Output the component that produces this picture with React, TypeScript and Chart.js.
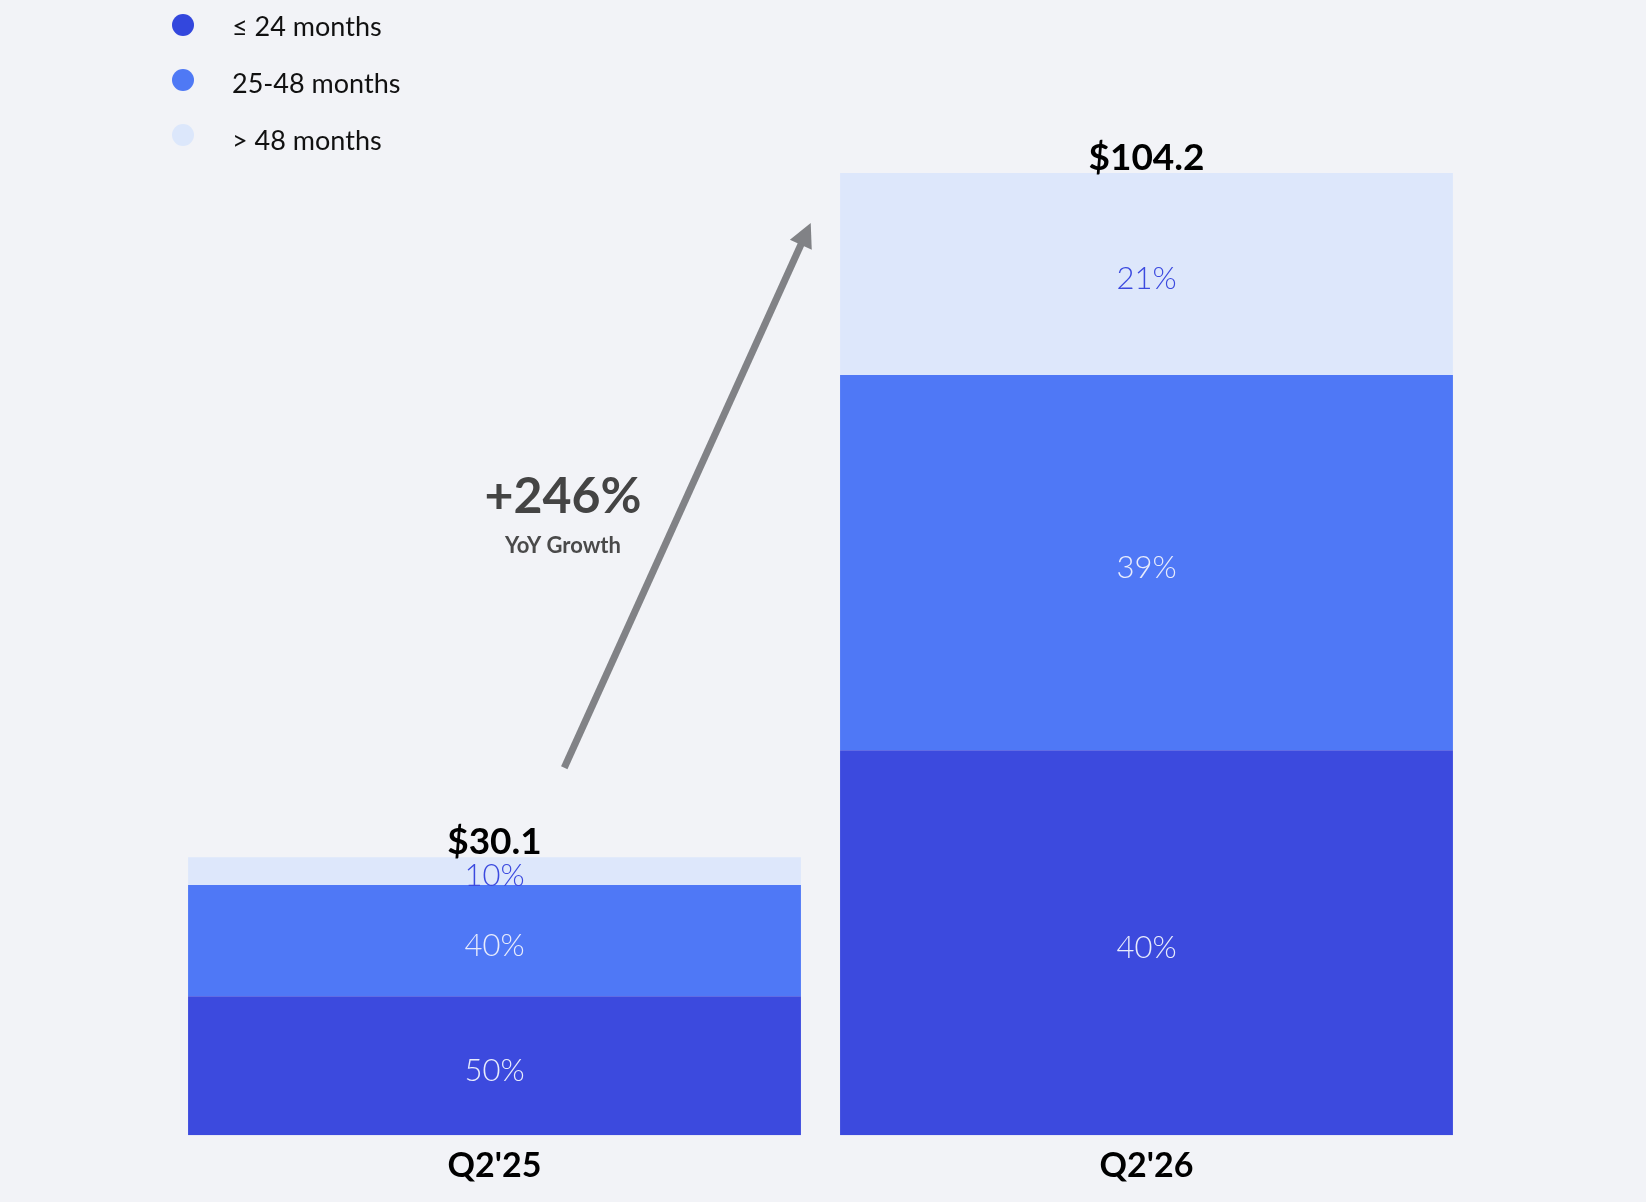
import { useEffect, useRef } from "react";
import { Chart, registerables } from "chart.js";

Chart.register(...registerables);

// quarters on the x axis
const quarters = ["Q2'25", "Q2'26"];
// total value of each bar ($)
const totals = [30.1, 104.2];
// share of each bucket in the total (%)
const shareUpTo24 = [50, 40];
const share25to48 = [40, 39];
const shareOver48 = [10, 21];

const seriesLabels = ["≤ 24 months", "25-48 months", "> 48 months"];
const seriesShares = [shareUpTo24, share25to48, shareOver48];
const seriesColors = ["#3C4ADE", "#4F78F6", "#DDE7FB"];
const seriesTextColors = ["#E8ECFC", "#E8ECFC", "#3B4ADF"];
const legendDotColors = ["#3347DD", "#4F79F5", "#DCE7FB"];

const growthLabel = "+246%";
const growthCaption = "YoY Growth";

const FONT = "Lato, 'Open Sans', sans-serif";

// arrow + growth text placed in data space (fraction between categories, value)
const ARROW_FROM = { at: 0.107, value: 39.8 };
const ARROW_TO = { at: 0.485, value: 98.8 };
const GROWTH_TEXT = { at: 0.105, value: 67.35 };
const GROWTH_CAPTION = { at: 0.105, value: 63.1 };

const labelsPlugin = {
  id: "segmentLabels",
  afterDatasetsDraw(chart: any) {
    const ctx = chart.ctx;
    ctx.save();
    ctx.textAlign = "center";
    chart.data.datasets.forEach((ds: any, i: number) => {
      const meta = chart.getDatasetMeta(i);
      meta.data.forEach((bar: any, j: number) => {
        const mid = (bar.y + bar.base) / 2 + 5;
        ctx.font = `300 31px ${FONT}`;
        ctx.fillStyle = seriesTextColors[i];
        ctx.textBaseline = "middle";
        ctx.fillText(`${seriesShares[i][j]}%`, bar.x, mid);
      });
    });
    // totals on top of each stack
    const topMeta = chart.getDatasetMeta(chart.data.datasets.length - 1);
    topMeta.data.forEach((bar: any, j: number) => {
      ctx.font = `700 37px ${FONT}`;
      ctx.fillStyle = "#000000";
      ctx.textBaseline = "alphabetic";
      ctx.fillText(`$${totals[j]}`, bar.x, bar.y - 3);
    });
    ctx.restore();
  },
};

const arrowPlugin = {
  id: "growthArrow",
  afterDraw(chart: any) {
    const { ctx, scales } = chart;
    const xs = scales.x;
    const ys = scales.y;
    const x0 = xs.getPixelForValue(0);
    const x1 = xs.getPixelForValue(1);
    const px = (f: number) => x0 + (x1 - x0) * f;

    const sx = px(ARROW_FROM.at);
    const sy = ys.getPixelForValue(ARROW_FROM.value);
    const ex = px(ARROW_TO.at);
    const ey = ys.getPixelForValue(ARROW_TO.value);
    const ang = Math.atan2(ey - sy, ex - sx);
    const headLen = 24;
    const headHalf = 12;
    const bx = ex - Math.cos(ang) * headLen;
    const by = ey - Math.sin(ang) * headLen;

    ctx.save();
    ctx.strokeStyle = "#818286";
    ctx.fillStyle = "#818286";
    ctx.lineWidth = 7;
    ctx.beginPath();
    ctx.moveTo(sx, sy);
    ctx.lineTo(bx + Math.cos(ang) * 2, by + Math.sin(ang) * 2);
    ctx.stroke();
    ctx.beginPath();
    ctx.moveTo(ex, ey);
    ctx.lineTo(bx + Math.sin(ang) * headHalf, by - Math.cos(ang) * headHalf);
    ctx.lineTo(bx - Math.sin(ang) * headHalf, by + Math.cos(ang) * headHalf);
    ctx.closePath();
    ctx.fill();

    ctx.textAlign = "center";
    ctx.textBaseline = "alphabetic";
    ctx.fillStyle = "#444444";
    ctx.font = `700 50px ${FONT}`;
    ctx.fillText(growthLabel, px(GROWTH_TEXT.at), ys.getPixelForValue(GROWTH_TEXT.value));
    ctx.fillStyle = "#4A4A4A";
    ctx.font = `700 22px ${FONT}`;
    ctx.fillText(growthCaption, px(GROWTH_CAPTION.at), ys.getPixelForValue(GROWTH_CAPTION.value));
    ctx.restore();
  },
};

function App() {
  const canvasRef = useRef<HTMLCanvasElement | null>(null);

  useEffect(() => {
    document.body.style.margin = "0";
    if (!canvasRef.current) return;
    const chart = new Chart(canvasRef.current, {
      type: "bar",
      data: {
        labels: quarters,
        datasets: seriesLabels.map((label, i) => ({
          label,
          data: seriesShares[i].map((s, j) => (s * totals[j]) / 100),
          backgroundColor: seriesColors[i],
          borderWidth: 0,
          barPercentage: 0.94,
          categoryPercentage: 1,
        })),
      },
      options: {
        responsive: true,
        maintainAspectRatio: false,
        animation: false,
        layout: { padding: { left: 168.5, right: 173.5, top: 119.5, bottom: 6 } },
        plugins: {
          legend: { display: false },
          tooltip: { enabled: false },
        },
        scales: {
          x: {
            stacked: true,
            grid: { display: false, drawTicks: false },
            border: { display: false },
            ticks: {
              color: "#000000",
              padding: 10,
              font: { family: FONT, size: 34, weight: "bold" },
            },
          },
          y: {
            stacked: true,
            display: false,
            min: 0,
            max: 110,
          },
        },
      },
      plugins: [labelsPlugin, arrowPlugin],
    });
    return () => chart.destroy();
  }, []);

  return (
    <div style={{ position: "relative", width: 1646, height: 1202, background: "#F2F3F7", fontFamily: FONT }}>
      <canvas ref={canvasRef} />
      <div style={{ position: "absolute", left: 172, top: 0 }}>
        {seriesLabels.map((label, i) => (
          <div
            key={label}
            style={{ position: "absolute", top: 25 + 57 * i - 20, height: 40, display: "flex", alignItems: "center", whiteSpace: "nowrap" }}
          >
            <span
              style={{
                width: 22,
                height: 22,
                borderRadius: "50%",
                background: legendDotColors[i],
                display: "inline-block",
                marginTop: -4 * i,
              }}
            />
            <span style={{ marginLeft: 38, fontSize: 27, color: "#111111" }}>{label}</span>
          </div>
        ))}
      </div>
    </div>
  );
}

export default App;
